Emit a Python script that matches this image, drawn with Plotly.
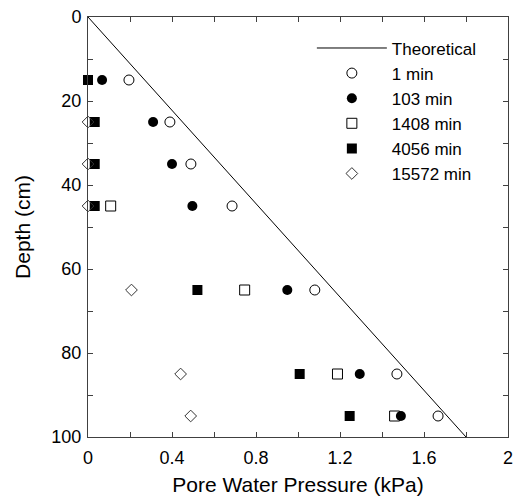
import plotly.graph_objects as go

depths = [15, 25, 35, 45, 65, 85, 95]

theory_x = [0, 1.8]
theory_y = [0, 100]

p_1min = [0.195, 0.39, 0.49, 0.686, 1.08, 1.471, 1.667]
p_103min = [0.067, 0.31, 0.40, 0.497, 0.949, 1.294, 1.49]
d_1408 = [45, 65, 85, 95]
p_1408min = [0.108, 0.746, 1.188, 1.46]
p_4056min = [0.0, 0.032, 0.032, 0.032, 0.521, 1.008, 1.246]
d_15572 = [25, 35, 45, 65, 85, 95]
p_15572min = [0.0, 0.0, 0.0, 0.207, 0.441, 0.489]

x_ticks = [0, 0.4, 0.8, 1.2, 1.6, 2]
x_ticklabels = ["0", "0.4", "0.8", "1.2", "1.6", "2"]
y_ticks = [0, 20, 40, 60, 80, 100]

FONT = "Liberation Sans, Arial, sans-serif"

fig = go.Figure()
fig.add_trace(go.Scatter(x=theory_x, y=theory_y, mode="lines", name="Theoretical",
                         line=dict(color="black", width=1)))
fig.add_trace(go.Scatter(x=p_1min, y=depths, mode="markers", name="1 min", cliponaxis=False,
                         marker=dict(symbol="circle-open", size=10, color="black",
                                     line=dict(width=1, color="black"))))
fig.add_trace(go.Scatter(x=p_103min, y=depths, mode="markers", name="103 min", cliponaxis=False,
                         marker=dict(symbol="circle", size=10, color="black",
                                     line=dict(width=0))))
fig.add_trace(go.Scatter(x=p_1408min, y=d_1408, mode="markers", name="1408 min", cliponaxis=False,
                         marker=dict(symbol="square-open", size=10, color="black",
                                     line=dict(width=1, color="black"))))
fig.add_trace(go.Scatter(x=p_4056min, y=depths, mode="markers", name="4056 min", cliponaxis=False,
                         marker=dict(symbol="square", size=10, color="black",
                                     line=dict(width=0))))
fig.add_trace(go.Scatter(x=p_15572min, y=d_15572, mode="markers", name="15572 min", cliponaxis=False,
                         marker=dict(symbol="diamond-open", size=9, color="#333333",
                                     line=dict(width=1, color="#333333"))))

axis_common = dict(
    showline=True, linecolor="#404040", linewidth=1, mirror="ticks",
    ticks="inside", ticklen=5, tickwidth=1, tickcolor="#404040",
    showgrid=False, zeroline=False, automargin=False,
    tickfont=dict(family=FONT, size=18, color="black"),
)

fig.update_layout(
    width=518, height=498,
    margin=dict(l=88, r=10, t=17, b=61),
    paper_bgcolor="white", plot_bgcolor="white",
    font=dict(family=FONT, color="black"),
    xaxis=dict(range=[0, 2], tickvals=x_ticks, ticktext=x_ticklabels,
               ticklabelstandoff=4,
               minor=dict(ticks="inside", ticklen=5, tickwidth=1, tickcolor="#404040", dtick=0.2),
               title=dict(text="Pore Water Pressure (kPa)", font=dict(family=FONT, size=21), standoff=10),
               **axis_common),
    yaxis=dict(range=[100, 0], tickvals=y_ticks,
               ticklabelstandoff=2,
               minor=dict(ticks="inside", ticklen=5, tickwidth=1, tickcolor="#404040", dtick=10),
               title=dict(text="Depth (cm)", font=dict(family=FONT, size=21), standoff=15),
               **axis_common),
    showlegend=True,
    legend=dict(x=0.533, y=0.968, xanchor="left", yanchor="top",
                bgcolor="rgba(0,0,0,0)", borderwidth=0,
                font=dict(family=FONT, size=17, color="black"),
                itemwidth=70, tracegroupgap=0),
)

fig.write_html("out.html")
